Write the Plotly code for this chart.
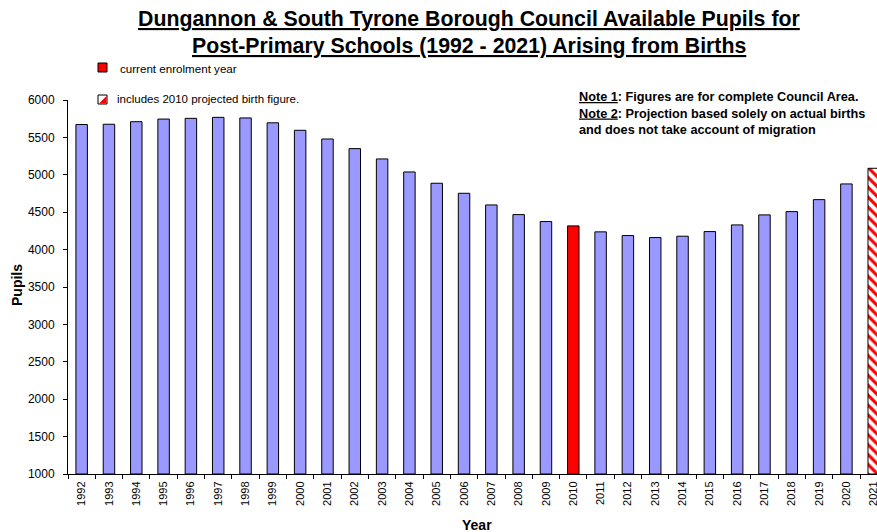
import plotly.graph_objects as go

years = [str(y) for y in range(1992, 2022)]
pupils = [5672, 5676, 5710, 5745, 5755, 5768, 5760, 5695, 5595, 5479,
          5350, 5212, 5038, 4887, 4753, 4597, 4468, 4375, 4317, 4237,
          4188, 4161, 4179, 4241, 4330, 4464, 4508, 4668, 4878, 5087]
current_year = "2010"
projected_year = "2021"

y_ticks = [1000, 1500, 2000, 2500, 3000, 3500, 4000, 4500, 5000, 5500, 6000]

title_line1 = "Dungannon & South Tyrone Borough Council Available Pupils for"
title_line2 = "Post-Primary Schools (1992 - 2021) Arising from Births"
legend_current = "current enrolment year"
legend_proj = "includes 2010 projected birth figure."

blue_x = [y for y in years if y not in (current_year, projected_year)]
blue_y = [v for y, v in zip(years, pupils) if y not in (current_year, projected_year)]
red_y = [v for y, v in zip(years, pupils) if y == current_year]
proj_y = [v for y, v in zip(years, pupils) if y == projected_year]

W, H = 877, 532
L, T, B = 68, 100, 58
PW, PH = W - L, H - T - B


def px(xp):  # page x -> paper x
    return (xp - L) / PW


def py(yp):  # page y -> paper y
    return (H - B - yp) / PH


fig = go.Figure()
common = dict(width=0.42, marker_line=dict(color="black", width=1), showlegend=False,
              base=1000)
fig.add_trace(go.Bar(x=blue_x, y=[v - 1000 for v in blue_y], marker_color="#9999FF", **common))
fig.add_trace(go.Bar(x=[current_year], y=[v - 1000 for v in red_y], marker_color="#FF0000", **common))
fig.add_trace(go.Bar(x=[projected_year], y=[v - 1000 for v in proj_y],
                     marker=dict(color="white",
                                 pattern=dict(shape="\\", fgcolor="#FF0000", bgcolor="white",
                                              size=7, solidity=0.45, fillmode="replace")),
                     **common))

fig.update_layout(
    width=W, height=H,
    margin=dict(l=L, r=0, t=T, b=B),
    paper_bgcolor="white", plot_bgcolor="white",
    font=dict(family="Arial, Liberation Sans, sans-serif", color="black", size=11),
    bargap=0.58,
    xaxis=dict(categoryorder="array", categoryarray=years, range=[-0.5, 29.12],
               tickangle=-90, showline=True, linecolor="black", linewidth=1,
               ticks="outside", ticklen=4, tickcolor="black", tickson="boundaries",
               showgrid=False, tickfont=dict(size=11), automargin=False,
               ticklabelstandoff=2),
    yaxis=dict(range=[1000, 6000], tickvals=y_ticks, showline=True, linecolor="black",
               linewidth=1, ticks="outside", ticklen=4, tickcolor="black",
               showgrid=False, zeroline=False, tickfont=dict(size=12), automargin=False,
               ticklabelstandoff=6),
)

# title
for txt, yp in ((title_line1, 19.5), (title_line2, 46)):
    fig.add_annotation(xref="paper", yref="paper", x=px(469), y=py(yp),
                       xanchor="center", yanchor="middle", showarrow=False,
                       text=f"<b><u>{txt}</u></b>", font=dict(size=21.3))

# axis titles
fig.add_annotation(xref="paper", yref="paper", x=px(477), y=py(525),
                   xanchor="center", yanchor="middle", showarrow=False,
                   text="<b>Year</b>", font=dict(size=14))
fig.add_annotation(xref="paper", yref="paper", x=px(17), y=py(285),
                   xanchor="center", yanchor="middle", showarrow=False, textangle=-90,
                   text="<b>Pupils</b>", font=dict(size=14))

# legend (custom)
fig.add_shape(type="rect", xref="paper", yref="paper",
              x0=px(98), x1=px(107), y0=py(72), y1=py(63),
              fillcolor="#FF0000", line=dict(color="black", width=1))
fig.add_annotation(xref="paper", yref="paper", x=px(118), y=py(68),
                   xanchor="left", yanchor="middle", showarrow=False,
                   text=legend_current, font=dict(size=11.6))
fig.add_shape(type="rect", xref="paper", yref="paper",
              x0=px(98), x1=px(107), y0=py(104), y1=py(95),
              fillcolor="white", line=dict(color="black", width=1))
fig.add_shape(type="path", xref="paper", yref="paper",
              path="M {a},{b} L {c},{b} L {c},{d} Z".format(
                  a=px(99), b=py(103.5), c=px(106.5), d=py(96)),
              fillcolor="#FF0000", line=dict(width=0))
fig.add_annotation(xref="paper", yref="paper", x=px(115), y=py(99),
                   xanchor="left", yanchor="middle", showarrow=False,
                   text=legend_proj, font=dict(size=11.5))

notes = ("<b><u>Note 1</u>: Figures are for complete Council Area.</b><br>"
         "<b><u>Note 2</u>: Projection based solely on actual births</b><br>"
         "<b>and does not take account of migration</b>")
fig.add_annotation(xref="paper", yref="paper", x=px(577), y=py(88),
                   xanchor="left", yanchor="top", showarrow=False, align="left",
                   text=notes, font=dict(size=12.7))

fig.write_html(
    "out.html",
    config={"displayModeBar": False},
    post_script="document.body.style.margin='0';document.body.style.overflow='hidden';",
)
